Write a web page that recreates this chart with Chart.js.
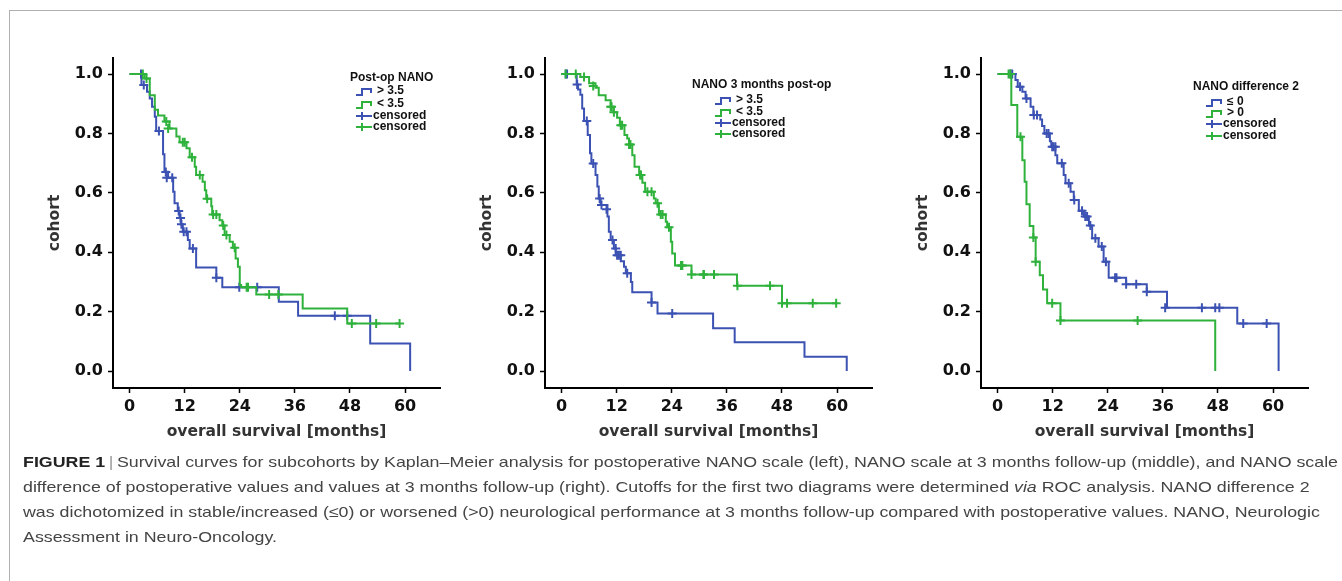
<!DOCTYPE html>
<html>
<head>
<meta charset="utf-8">
<script src="https://cdn.jsdelivr.net/npm/chart.js@4.4.1/dist/chart.umd.min.js"></script>
<style>
  html, body { margin: 0; padding: 0; background: #fff; }
  #page { position: relative; width: 1342px; height: 581px; overflow: hidden; }
  #frame { position: absolute; left: 9px; top: 10px; width: 1340px; height: 580px;
           border-top: 1px solid #b0b0b0; border-left: 1px solid #b0b0b0; }
  canvas { position: absolute; top: 40px; }
  #caption { position: absolute; left: 23px; top: 449px; font-family: "Liberation Sans", Arial, sans-serif;
             font-size: 15px; line-height: 25px; color: #444; white-space: nowrap;
             transform: scaleX(1.187); transform-origin: 0 0; }
  #caption b { color: #222; }
  #caption .sep { color: #999; margin: 0 3px; }
</style>
</head>
<body>
<div id="page">
  <div id="frame"></div>
  <canvas id="chartPostop" width="410" height="410" style="left:40px"></canvas>
  <canvas id="chart3m" width="410" height="410" style="left:472px"></canvas>
  <canvas id="chartDiff" width="410" height="410" style="left:908px"></canvas>
  <div id="caption">
    <b>FIGURE 1</b><span class="sep">|</span>Survival curves for subcohorts by Kaplan–Meier analysis for postoperative NANO scale (left), NANO scale at 3 months follow-up (middle), and NANO scale<br>
    difference of postoperative values and values at 3 months follow-up (right). Cutoffs for the first two diagrams were determined <i>via</i> ROC analysis. NANO difference 2<br>
    was dichotomized in stable/increased (≤0) or worsened (&gt;0) neurological performance at 3 months follow-up compared with postoperative values. NANO, Neurologic<br>
    Assessment in Neuro-Oncology.
  </div>
</div>
<script>
// axes
const xTicks = [0, 12, 24, 36, 48, 60];
const yTicks = [0, 0.2, 0.4, 0.6, 0.8, 1.0];
const xTitle = 'overall survival [months]';
const yTitle = 'cohort';

// legend texts (first label = blue curve, second = green curve)
const postopTitle = 'Post-op NANO';
const postopLabels = ['> 3.5', '< 3.5', 'censored', 'censored'];
const m3Title = 'NANO 3 months post-op';
const m3Labels = ['> 3.5', '< 3.5', 'censored', 'censored'];
const diffTitle = 'NANO difference 2';
const diffLabels = ['≤ 0', '> 0', 'censored', 'censored'];

// Kaplan-Meier steps [month, survival] and censored marks
// left: post-op NANO (> 3.5 blue, < 3.5 green)
const postopHighSteps = [[0,1],[2.6,0.963],[3.8,0.94],[4.4,0.918],[4.9,0.89],[5.5,0.856],[5.8,0.808],[7.3,0.73],[7.6,0.671],[8.4,0.651],[9.5,0.604],[9.8,0.565],[10.5,0.539],[10.9,0.515],[11.2,0.494],[11.6,0.469],[12.7,0.441],[13.1,0.413],[14.5,0.349],[18.9,0.314],[20.2,0.282],[32.5,0.233],[36.7,0.186],[52.4,0.093],[61.1,0]];
const postopHighCensored = [[2.5,1.0],[3.1,0.963],[6.4,0.808],[7.9,0.67],[8.1,0.651],[9.3,0.651],[10.7,0.539],[11.1,0.515],[11.3,0.494],[11.8,0.469],[12.4,0.469],[13.8,0.413],[18.9,0.314],[23.9,0.282],[27.8,0.282],[44.7,0.186],[47.4,0.186]];
const postopLowSteps = [[0,1],[3.3,0.985],[4.4,0.929],[5.5,0.88],[6.2,0.86],[7.6,0.84],[8.7,0.817],[10.2,0.79],[10.9,0.77],[12.4,0.75],[13.1,0.72],[14.2,0.688],[14.5,0.66],[15.9,0.637],[16.4,0.609],[16.7,0.58],[17.8,0.555],[18.0,0.527],[19.6,0.508],[20.2,0.49],[20.7,0.458],[21.8,0.435],[22.5,0.415],[23.1,0.379],[23.6,0.351],[24.0,0.29],[24.3,0.282],[27.6,0.258],[37.7,0.211],[47.4,0.16],[58.8,0.16]];
const postopLowCensored = [[2.9,1.0],[3.7,0.985],[8.0,0.84],[8.4,0.817],[11.6,0.77],[12.0,0.77],[13.6,0.72],[15.3,0.66],[16.9,0.58],[18.2,0.527],[18.9,0.527],[20.4,0.49],[21.1,0.458],[22.9,0.415],[25.5,0.282],[25.8,0.282],[30.4,0.258],[32.4,0.258],[48.4,0.16],[53.7,0.16],[58.8,0.16]];

// middle: NANO 3 months post-op (> 3.5 blue, < 3.5 green)
const m3HighSteps = [[0,1],[3.3,0.965],[3.6,0.948],[4.1,0.93],[4.5,0.884],[4.9,0.842],[5.7,0.795],[6.2,0.733],[6.5,0.699],[7.4,0.66],[7.8,0.621],[8.1,0.581],[8.5,0.559],[10.0,0.52],[10.3,0.469],[10.7,0.441],[11.4,0.413],[11.8,0.39],[12.9,0.37],[13.6,0.351],[14.0,0.329],[15.1,0.30],[15.4,0.265],[19.6,0.231],[20.9,0.194],[33.0,0.144],[37.7,0.097],[52.9,0.048],[62.1,0]];
const m3HighCensored = [[0.9,1.0],[1.2,1.0],[3.4,0.965],[5.5,0.842],[6.9,0.699],[8.3,0.581],[8.7,0.559],[9.8,0.545],[11.1,0.441],[11.8,0.413],[12.1,0.39],[12.5,0.39],[12.9,0.39],[14.3,0.329],[19.6,0.231],[24.1,0.194]];
const m3LowSteps = [[0,1],[4.1,0.99],[6.0,0.969],[7.4,0.954],[8.1,0.929],[9.6,0.912],[10.7,0.89],[11.3,0.871],[12.1,0.853],[12.7,0.828],[13.7,0.795],[14.3,0.783],[14.7,0.763],[15.4,0.727],[15.9,0.688],[16.9,0.66],[17.6,0.634],[18.2,0.604],[20.1,0.581],[20.5,0.565],[21.2,0.527],[22.7,0.503],[23.0,0.484],[23.8,0.435],[24.1,0.396],[24.7,0.355],[28.3,0.325],[38.2,0.287],[48.0,0.228],[59.8,0.228]];
const m3LowCensored = [[0.9,1.0],[3.1,1.0],[4.9,0.99],[6.9,0.96],[10.7,0.89],[10.9,0.89],[11.4,0.871],[12.9,0.828],[13.2,0.828],[14.7,0.763],[15.0,0.763],[17.1,0.66],[17.3,0.66],[18.7,0.604],[19.6,0.604],[20.9,0.565],[21.6,0.527],[22.0,0.527],[23.4,0.484],[26.0,0.355],[26.3,0.355],[28.3,0.325],[30.9,0.325],[31.0,0.325],[33.2,0.325],[38.3,0.287],[45.4,0.287],[48.0,0.228],[49.1,0.228],[54.7,0.228],[59.8,0.228]];

// right: NANO difference 2 (<= 0 blue, > 0 green)
const diffStableSteps = [[0,1],[3.9,0.98],[4.4,0.957],[5.4,0.94],[6.1,0.918],[7.2,0.89],[7.8,0.862],[9.3,0.847],[9.7,0.825],[10.2,0.80],[11.4,0.774],[11.7,0.755],[12.6,0.727],[13.0,0.70],[14.4,0.66],[14.8,0.632],[15.9,0.604],[16.6,0.576],[17.7,0.54],[18.8,0.52],[19.9,0.49],[20.6,0.447],[22.0,0.419],[23.1,0.368],[24.2,0.314],[28.0,0.292],[32.5,0.267],[36.9,0.213],[52.2,0.16],[61.2,0]];
const diffStableCensored = [[2.8,1.0],[3.2,1.0],[4.9,0.957],[6.3,0.918],[7.9,0.862],[8.6,0.862],[10.7,0.80],[11.1,0.80],[11.9,0.755],[12.2,0.755],[12.6,0.755],[14.0,0.70],[15.5,0.632],[16.7,0.576],[18.4,0.54],[19.1,0.52],[19.5,0.52],[20.2,0.49],[21.3,0.447],[22.7,0.419],[23.6,0.368],[25.6,0.314],[25.9,0.314],[28.0,0.292],[30.2,0.292],[32.5,0.267],[36.5,0.213],[44.5,0.213],[47.4,0.213],[48.3,0.213],[53.5,0.16],[58.6,0.16]];
const diffWorseSteps = [[0,1],[3.0,0.896],[4.3,0.789],[5.4,0.71],[5.9,0.637],[6.3,0.562],[7.0,0.488],[7.8,0.45],[8.3,0.368],[9.2,0.323],[9.9,0.275],[10.8,0.228],[13.7,0.17],[47.4,0]];
const diffWorseCensored = [[2.4,1.0],[2.8,1.0],[5.0,0.789],[7.8,0.45],[8.3,0.368],[11.9,0.228],[13.7,0.17],[30.5,0.17]];

const BLUE = '#3c52b3';
const GREEN = '#2fb23c';
const tickFont = { family: '"DejaVu Sans", Arial, sans-serif', weight: 'bold', size: 16 };
const titleFont = { family: '"DejaVu Sans", Arial, sans-serif', weight: 'bold', size: 15.5 };

const toXY = arr => arr.map(p => ({ x: p[0], y: p[1] }));

// SPSS-like legend drawn inside the plot area
const kmLegend = {
    id: 'kmLegend',
    afterDraw(chart, args, opts) {
        const ctx = chart.ctx;
        const a = chart.chartArea;
        const x0 = a.left + opts.dx;
        ctx.save();
        ctx.font = 'bold 12px "Liberation Sans", Arial, sans-serif';
        ctx.fillStyle = '#111';
        ctx.textBaseline = 'middle';
        ctx.fillText(opts.title, a.left + opts.titleDx, a.top + opts.titleDy);
        const colors = [BLUE, GREEN, BLUE, GREEN];
        opts.labels.forEach((lab, i) => {
            const y = a.top + opts.rows[i];
            ctx.strokeStyle = colors[i];
            ctx.lineWidth = 2;
            ctx.beginPath();
            if (i < 2) {
                ctx.moveTo(x0, y + 4);
                ctx.lineTo(x0 + 6, y + 4);
                ctx.lineTo(x0 + 6, y - 2);
                ctx.lineTo(x0 + 15, y - 2);
                ctx.lineTo(x0 + 15, y + 2);
                ctx.stroke();
                ctx.fillStyle = '#111';
                ctx.fillText(lab, x0 + 21, y);
            } else {
                ctx.moveTo(x0, y);
                ctx.lineTo(x0 + 16, y);
                ctx.moveTo(x0 + 6, y - 4);
                ctx.lineTo(x0 + 6, y + 4);
                ctx.stroke();
                ctx.fillStyle = '#111';
                ctx.fillText(lab, x0 + 17, y);
            }
        });
        ctx.restore();
    }
};

function makePanel(id, title, labels, blueSteps, blueCens, greenSteps, greenCens, legendOpts) {
    const ctx = document.getElementById(id).getContext('2d');
    const lineDs = (data, color) => ({
        data: toXY(data), borderColor: color, backgroundColor: color, borderWidth: 2,
        stepped: true, pointRadius: 0, fill: false, tension: 0
    });
    const censDs = (data, color) => ({
        data: toXY(data), borderColor: color, backgroundColor: color, borderWidth: 2,
        showLine: false, pointStyle: 'cross', pointRadius: 4.5
    });
    return new Chart(ctx, {
        type: 'line',
        data: {
            // first dataset is drawn on top: green over blue
            datasets: [
                censDs(greenCens, GREEN),
                lineDs(greenSteps, GREEN),
                censDs(blueCens, BLUE),
                lineDs(blueSteps, BLUE)
            ]
        },
        options: {
            responsive: false,
            animation: false,
            layout: { padding: { top: 18, right: 10, left: 0, bottom: 0 } },
            plugins: {
                legend: { display: false },
                tooltip: { enabled: false },
                kmLegend: Object.assign({ title: title, labels: labels }, legendOpts)
            },
            scales: {
                x: {
                    type: 'linear', min: -3.6, max: 67.6,
                    afterBuildTicks: s => { s.ticks = xTicks.map(v => ({ value: v })); },
                    afterFit: s => { s.height = 62; },
                    grid: { display: true, drawOnChartArea: false, drawTicks: true, tickLength: 5, tickColor: '#000', tickWidth: 1.5 },
                    border: { display: true, color: '#000', width: 2 },
                    ticks: { autoSkip: false, maxRotation: 0, padding: 4, color: '#111', font: tickFont, callback: v => String(v) },
                    title: { display: true, text: xTitle, color: '#333', font: titleFont, padding: { top: 0, bottom: 9 } }
                },
                y: {
                    type: 'linear', min: -0.057, max: 1.054,
                    afterBuildTicks: s => { s.ticks = yTicks.map(v => ({ value: v })); },
                    afterFit: s => { s.width = 73; },
                    grid: { display: true, drawOnChartArea: false, drawTicks: true, tickLength: 5, tickColor: '#000', tickWidth: 1.5 },
                    border: { display: true, color: '#000', width: 2 },
                    ticks: { autoSkip: false, padding: 5, color: '#111', font: tickFont, callback: v => v.toFixed(1) },
                    title: { display: true, text: yTitle, color: '#333', font: titleFont, padding: { top: 6, bottom: 0 } }
                }
            }
        },
        plugins: [kmLegend]
    });
}

makePanel('chartPostop', postopTitle, postopLabels, postopHighSteps, postopHighCensored, postopLowSteps, postopLowCensored,
    { titleDx: 237, titleDy: 20, dx: 243, rows: [33, 46, 58, 69] });
makePanel('chart3m', m3Title, m3Labels, m3HighSteps, m3HighCensored, m3LowSteps, m3LowCensored,
    { titleDx: 147, titleDy: 27, dx: 170, rows: [42, 54, 65, 76] });
makePanel('chartDiff', diffTitle, diffLabels, diffStableSteps, diffStableCensored, diffWorseSteps, diffWorseCensored,
    { titleDx: 212, titleDy: 29, dx: 225, rows: [44, 55, 66, 78] });
</script>
</body>
</html>
